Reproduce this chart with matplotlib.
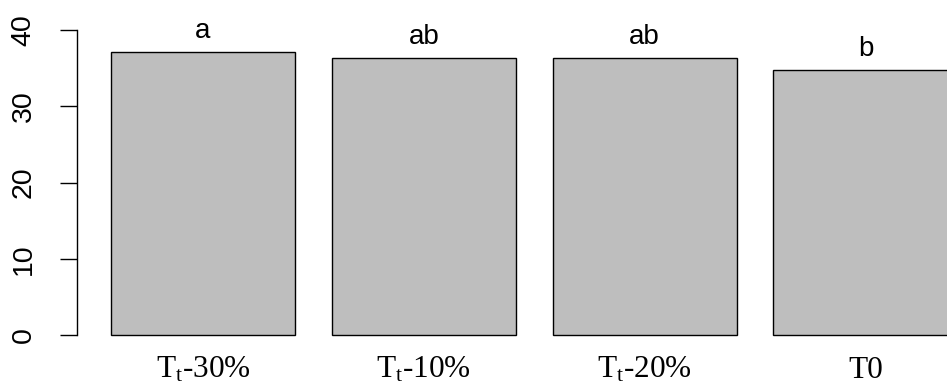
import matplotlib
matplotlib.use("Agg")
import matplotlib.pyplot as plt

categories = [r"$\mathrm{T_t}$-30%", r"$\mathrm{T_t}$-10%", r"$\mathrm{T_t}$-20%", "T0"]
values = [37.1, 36.3, 36.3, 34.75]
letters = ["a", "ab", "ab", "b"]
yticks = [0, 10, 20, 30, 40]

plt.rcParams['mathtext.fontset'] = 'custom'
plt.rcParams['mathtext.rm'] = 'Liberation Serif'
plt.rcParams['mathtext.it'] = 'Liberation Serif:italic'

W, H, DPI = 947, 390, 100
fig = plt.figure(figsize=(W / DPI, H / DPI), dpi=DPI)

# R-like plot region (extends past the right edge of the figure)
xl, xr = 0.016, 4.984
px_left = 74.2 + xl * 184
px_right = 74.2 + xr * 184
yb, yt = -1.6, 41.6
py_bottom = 335 + 1.6 * 7.625
py_top = 30 - 1.6 * 7.625
ax = fig.add_axes([px_left / W, 1 - py_bottom / H, (px_right - px_left) / W, (py_bottom - py_top) / H])
ax.set_xlim(xl, xr)
ax.set_ylim(yb, yt)

lefts = [0.2 + 1.2 * i for i in range(len(values))]
centers = [l + 0.5 for l in lefts]
ax.bar(centers, values, width=1.0, color="#BEBEBE", edgecolor="black", linewidth=1.0)

for c, v, t in zip(centers, values, letters):
    ax.text(c, v + 1.85, t, ha="center", va="baseline", fontsize=20, family="Liberation Sans")

for s in ["top", "right", "bottom"]:
    ax.spines[s].set_visible(False)
ax.spines["left"].set_bounds(0, 40)
ax.spines["left"].set_linewidth(1.0)
ax.set_yticks(yticks)
ax.set_yticklabels([str(v) for v in yticks], rotation=90, va="center", fontsize=20.5, family="Liberation Sans")
ax.tick_params(axis="y", length=12.6, width=1.0, pad=16.5)
ax.set_xticks([])

# category labels under the bar centres, baseline ~378 px from the top
y_label = -(378 - 335) / 7.625
for c, lab in zip(centers, categories):
    ax.text(c, y_label, lab, ha="center", va="baseline", fontsize=22.5,
            family="Liberation Serif", clip_on=False)

fig.savefig("out.png", dpi=DPI)
